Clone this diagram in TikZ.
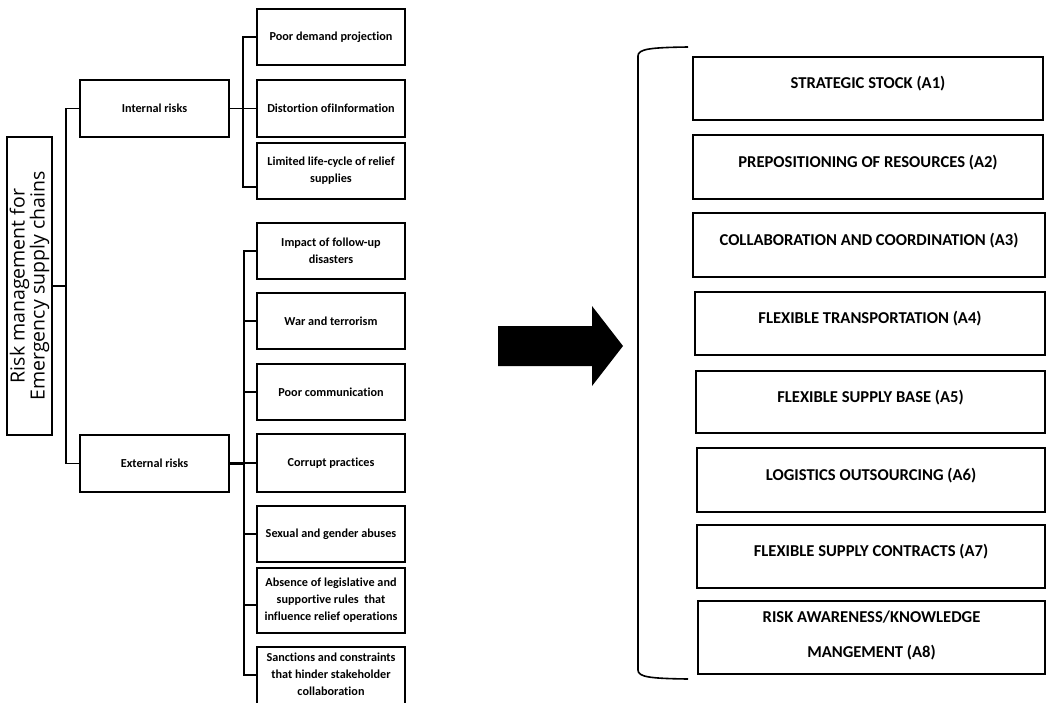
\documentclass[tikz,border=0pt]{standalone}
\usepackage{fontspec}
\setmainfont{Carlito}[Ligatures={NoCommon}]
\newfontfamily\vfont{Open Sans}
\begin{document}
\begin{tikzpicture}[x=1pt,y=-1pt,
  conn/.style={line width=1.6pt},
  lbox/.style={draw,line width=1.6pt,minimum width=148pt,minimum height=56pt,inner sep=1pt,
     align=center,font=\bfseries\fontsize{12.2}{17}\selectfont},
  ltext/.style={inner sep=0pt,align=center,font=\bfseries\fontsize{12.2}{17}\selectfont},
  abox/.style={draw,line width=1.6pt,minimum width=350pt,minimum height=63pt,inner sep=1pt,
     align=center,font=\bfseries\fontsize{16.6}{35}\selectfont},
  up/.style={text depth=12pt}
]
\useasboundingbox (0,0) rectangle (1047,702);
\clip (0,0) rectangle (1047,702);

% root
\node[draw,line width=1.6pt,rotate=90,minimum width=298pt,minimum height=45pt,inner sep=0pt,
  align=center,font=\vfont\fontsize{19.5}{20}\selectfont] (root) at (29.5,286)
  {Risk management for\\Emergency supply chains};

% level 1
\node[lbox,minimum width=149pt,minimum height=57pt] (int) at (154.5,108.5) {Internal risks};
\node[lbox,minimum width=149pt,minimum height=57pt] (ext) at (154.5,463.5) {External risks};

% internal children
\node[lbox] (pdp) at (331,37) {Poor demand projection};
\node[lbox,minimum height=57pt] (dist) at (331,108.5) {Distortion ofiInformation};
\node[lbox] (lim) at (331,171) {Limited life-cycle of relief\\supplies};

% external children
\node[lbox] (imp) at (331,251) {Impact of follow-up\\disasters};
\node[lbox] (war) at (331,321) {War and terrorism};
\node[lbox] (pcom) at (331,392) {Poor communication};
\node[lbox,minimum height=58pt] (corr) at (331,463) {Corrupt practices};
\node[lbox] (sex) at (331,534) {Sexual and gender abuses};
\node[lbox,minimum height=65pt] (abs) at (331,600.5) {Absence of legislative and\\supportive rules\ \ that\\influence relief operations};
\node[lbox,minimum height=66pt] (sanc) at (331,680) {};
\node[ltext] (sanct) at (331,674.5) {Sanctions and constraints\\that hinder stakeholder\\collaboration};

% tree connectors
\coordinate (j0) at (66,286);
\coordinate (j1) at (243,108.5);
\coordinate (j2) at (244,463.5);
\draw[conn] (root.south) -- (j0);
\draw[conn] (int.west) -- (int.west -| j0) -- (ext.west -| j0) -- (ext.west);
\draw[conn] (int.east) -- (j1);
\draw[conn] (pdp.west) -- (pdp.west -| j1) -- ([yshift=-16pt]lim.west -| j1) -- ([yshift=-16pt]lim.west);
\draw[conn] (dist.west) -- (dist.west -| j1);
\draw[conn,line width=2.6pt] (ext.east) -- (j2);
\draw[conn,line width=2.2pt] (imp.west) -- (imp.west -| j2) -- ([yshift=5pt]sanc.west -| j2) -- ([yshift=5pt]sanc.west);
\draw[conn] (war.west) -- (war.west -| j2);
\draw[conn] (pcom.west) -- (pcom.west -| j2);
\draw[conn] (corr.west) -- (corr.west -| j2);
\draw[conn] (sex.west) -- (sex.west -| j2);
\draw[conn] ([yshift=-4.5pt]abs.west) -- ([yshift=-4.5pt]abs.west -| j2);

% big arrow
\fill (498,326) -- (592,326) -- (592,306) -- (623,346) -- (592,386) -- (592,366) -- (498,366) -- cycle;

% bracket
\draw[line width=1.6pt] (688,47) .. controls (650,47.5) and (638,49) .. (638,56) -- (638,670)
   .. controls (638,677) and (650,678.5) .. (688,679);

% strategies
\node[abox,up] (a1) at (868,88.5) {STRATEGIC STOCK (A1)};
\node[abox,up,minimum height=64pt] (a2) at (868,167) {PREPOSITIONING OF RESOURCES (A2)};
\node[abox,up,minimum width=352pt,minimum height=64pt] (a3) at (869,245) {COLLABORATION AND COORDINATION (A3)};
\node[abox,up,minimum width=350pt] (a4) at (870,323.5) {FLEXIBLE TRANSPORTATION (A4)};
\node[abox,up,minimum width=349pt,minimum height=62pt] (a5) at (870.5,402) {FLEXIBLE SUPPLY BASE (A5)};
\node[abox,up,minimum width=348pt,minimum height=64pt] (a6) at (871,480) {LOGISTICS OUTSOURCING (A6)};
\node[abox,up,minimum width=348pt] (a7) at (871,556.5) {FLEXIBLE SUPPLY CONTRACTS (A7)};
\node[abox,minimum width=347pt,minimum height=73pt,text depth=6pt] (a8) at (871.5,637.5) {RISK AWARENESS/KNOWLEDGE\\MANGEMENT (A8)};
\end{tikzpicture}
\end{document}
